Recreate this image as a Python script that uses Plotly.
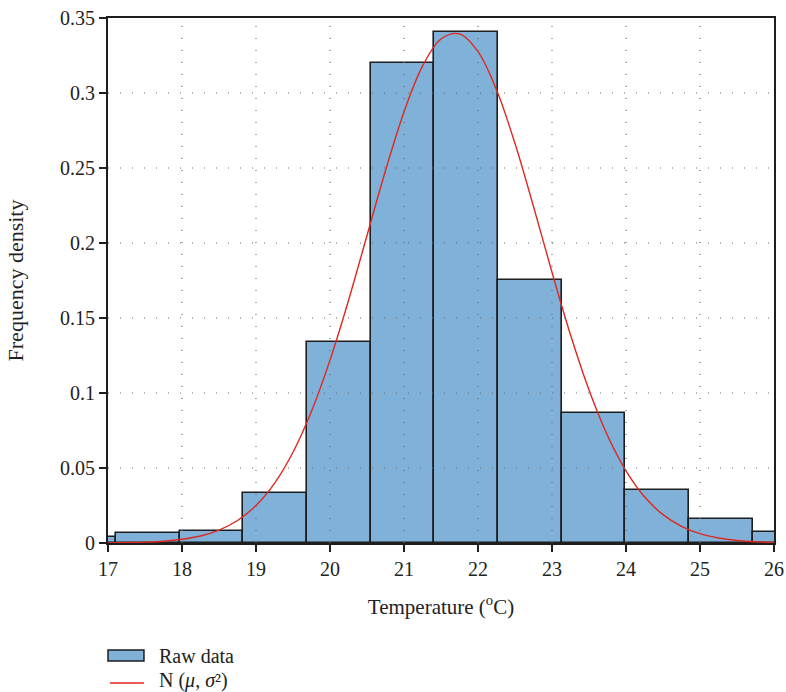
import plotly.graph_objects as go

# Histogram bins (temperature, °C) and frequency densities
bin_edges = [16.25, 17.11, 17.97, 18.83, 19.69, 20.55, 21.41, 22.27, 23.13, 23.99, 24.85, 25.71, 26.57]
density = [0.0042, 0.0065, 0.0080, 0.0331, 0.1342, 0.3202, 0.3405, 0.1753, 0.0869, 0.0353, 0.0158, 0.0075]

# Fitted normal curve
curve_x = [17.0, 17.25, 17.5, 17.75, 18.0, 18.25, 18.5, 18.75, 19.0, 19.25, 19.5, 19.75,
           20.0, 20.25, 20.5, 20.75, 21.0, 21.25, 21.5, 21.75, 22.0, 22.25, 22.5, 22.75,
           23.0, 23.25, 23.5, 23.75, 24.0, 24.25, 24.5, 24.75, 25.0, 25.25, 25.5, 25.75, 26.0]
curve_y = [0.0001, 0.0003, 0.0006, 0.0012, 0.0025, 0.0047, 0.0086, 0.0150, 0.0250, 0.0398,
           0.0605, 0.0878, 0.1219, 0.1617, 0.2050, 0.2483, 0.2874, 0.3179, 0.3360, 0.3394,
           0.3276, 0.3021, 0.2663, 0.2243, 0.1805, 0.1388, 0.1020, 0.0717, 0.0481, 0.0308,
           0.0189, 0.0111, 0.0062, 0.0033, 0.0017, 0.0008, 0.0004]

x_ticks = [17, 18, 19, 20, 21, 22, 23, 24, 25, 26]
y_ticks = [0, 0.05, 0.1, 0.15, 0.2, 0.25, 0.3, 0.35]
y_ticktext = ["0", "0.05", "0.1", "0.15", "0.2", "0.25", "0.3", "0.35"]

FONT = "Liberation Serif"
BAR_FILL = "#7fb1d9"
EDGE = "#1e1e1e"
RED = "#e0281e"

centers = [(a + b) / 2 for a, b in zip(bin_edges[:-1], bin_edges[1:])]
widths = [b - a for a, b in zip(bin_edges[:-1], bin_edges[1:])]

fig = go.Figure()
fig.add_trace(go.Bar(x=centers, y=density, width=widths, name="Raw data",
                     marker=dict(color=BAR_FILL, line=dict(color=EDGE, width=1.6)),
                     showlegend=False))
fig.add_trace(go.Scatter(x=curve_x, y=curve_y, mode="lines", line_shape="spline",
                         name="N (μ, σ²)", line=dict(color=RED, width=1.4),
                         showlegend=False))

shapes = []
grid_style = dict(color="#6a6a6a", width=1.2, dash="1px,11px")
for xv in x_ticks[1:-1]:
    shapes.append(dict(type="line", xref="x", yref="paper", x0=xv, x1=xv, y0=0, y1=1,
                       line=grid_style, layer="above"))
for yv in y_ticks[1:-1]:
    shapes.append(dict(type="line", xref="paper", yref="y", x0=0, x1=1, y0=yv, y1=yv,
                       line=grid_style, layer="above"))

# manual legend below the plot
shapes.append(dict(type="rect", xref="paper", yref="paper", x0=0.0, x1=0.054,
                   y0=-0.2038, y1=-0.2248, fillcolor=BAR_FILL,
                   line=dict(color=EDGE, width=1.5)))
shapes.append(dict(type="line", xref="paper", yref="paper", x0=0.003, x1=0.054,
                   y0=-0.2667, y1=-0.2667, line=dict(color=RED, width=1.6)))

annotations = [
    dict(text="Raw data", xref="paper", yref="paper", x=0.074, y=-0.2143,
         xanchor="left", yanchor="middle", showarrow=False,
         font=dict(family=FONT, size=20, color="#222")),
    dict(text="N (<i>μ</i>, <i>σ</i>²)", xref="paper", yref="paper", x=0.074, y=-0.2619,
         xanchor="left", yanchor="middle", showarrow=False,
         font=dict(family=FONT, size=20, color="#222")),
]

fig.update_layout(
    width=786, height=692,
    margin=dict(l=108, r=12, t=18, b=149, autoexpand=False),
    paper_bgcolor="white", plot_bgcolor="white",
    font=dict(family=FONT, size=20, color="#222"),
    bargap=0,
    shapes=shapes, annotations=annotations,
    showlegend=False,
)
fig.update_xaxes(range=[17, 26], tickvals=x_ticks, ticktext=[str(v) for v in x_ticks],
                 showgrid=False, zeroline=False, automargin=False,
                 showline=True, linecolor=EDGE, linewidth=2, mirror=True,
                 ticks="outside", ticklen=7, tickwidth=2, tickcolor=EDGE,
                 tickfont=dict(family=FONT, size=20),
                 title=dict(text="Temperature (<sup>o</sup>C)", standoff=20,
                            font=dict(family=FONT, size=21)))
fig.update_yaxes(range=[0, 0.35], tickvals=y_ticks, ticktext=y_ticktext,
                 showgrid=False, zeroline=False, automargin=False,
                 showline=True, linecolor=EDGE, linewidth=2, mirror=True,
                 ticks="outside", ticklen=7, tickwidth=2, tickcolor=EDGE,
                 tickfont=dict(family=FONT, size=20),
                 title=dict(text="Frequency density", standoff=30,
                            font=dict(family=FONT, size=22)))

fig.write_html("out.html")
